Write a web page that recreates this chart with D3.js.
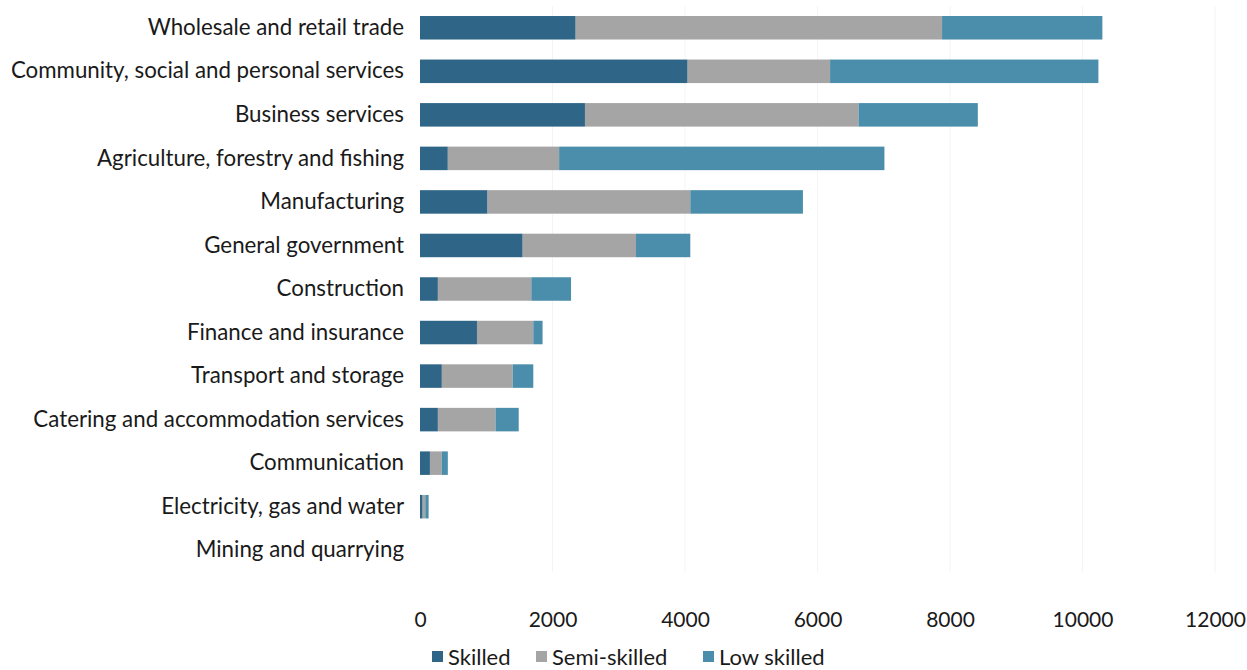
<!DOCTYPE html>
<html>
<head>
<meta charset="utf-8">
<script src="https://cdn.jsdelivr.net/npm/d3@7"></script>
<style>
  html, body { margin: 0; padding: 0; background: #ffffff; }
  svg { display: block; }
  text { font-family: Lato, "Open Sans", sans-serif; fill: #1a1a1a; }
</style>
</head>
<body>
<svg id="chart" width="1247" height="670"></svg>
<script>
// Employment by sector and skill level
const categories = [
  "Wholesale and retail trade",
  "Community, social and personal services",
  "Business services",
  "Agriculture, forestry and fishing",
  "Manufacturing",
  "General government",
  "Construction",
  "Finance and insurance",
  "Transport and storage",
  "Catering and accommodation services",
  "Communication",
  "Electricity, gas and water",
  "Mining and quarrying"
];
const skilled     = [2350, 4040, 2490, 420, 1020, 1550, 270, 860, 330, 270, 150, 40, 0];
const semiSkilled = [5530, 2150, 4130, 1680, 3060, 1710, 1410, 850, 1070, 870, 180, 40, 0];
const lowSkilled  = [2420, 4050, 1800, 4910, 1700, 820, 600, 140, 310, 350, 90, 50, 0];
const seriesNames = ["Skilled", "Semi-skilled", "Low skilled"];
const seriesColors = ["#2f6688", "#a5a5a5", "#4a8eab"];
const xTicks = [0, 2000, 4000, 6000, 8000, 10000, 12000];

const rows = categories.map((c, i) => ({
  category: c,
  "Skilled": skilled[i],
  "Semi-skilled": semiSkilled[i],
  "Low skilled": lowSkilled[i]
}));

const svg = d3.select("#chart");
const plotLeft = 420, plotRight = 1215, plotTop = 6, plotBottom = 572;

const x = d3.scaleLinear().domain([0, 12000]).range([plotLeft, plotRight]);
const y = d3.scaleBand().domain(categories).range([plotTop, plotBottom]).paddingInner(0.46).paddingOuter(0.23);
const color = d3.scaleOrdinal().domain(seriesNames).range(seriesColors);

// faint vertical gridlines
svg.append("g")
  .selectAll("line")
  .data(xTicks.slice(1))
  .join("line")
  .attr("x1", d => x(d)).attr("x2", d => x(d))
  .attr("y1", plotTop).attr("y2", plotBottom)
  .attr("stroke", "#f4f4f4")
  .attr("stroke-width", 1);

// stacked bars
const stacked = d3.stack().keys(seriesNames)(rows);
svg.append("g")
  .selectAll("g")
  .data(stacked)
  .join("g")
  .attr("fill", d => color(d.key))
  .selectAll("rect")
  .data(d => d)
  .join("rect")
  .attr("x", d => x(d[0]))
  .attr("y", d => y(d.data.category))
  .attr("width", d => Math.max(0, x(d[1]) - x(d[0])))
  .attr("height", y.bandwidth());

// category axis
const yAxis = svg.append("g")
  .attr("transform", `translate(${plotLeft - 16},0)`)
  .call(d3.axisLeft(y).tickSize(0).tickPadding(0));
yAxis.select(".domain").remove();
yAxis.selectAll("text")
  .style("font-family", "Lato, 'Open Sans', sans-serif")
  .style("font-size", "22.3px")
  .attr("fill", "#1a1a1a");

// value axis
const xAxis = svg.append("g")
  .attr("transform", `translate(0,${plotBottom + 4})`)
  .call(d3.axisBottom(x).tickValues(xTicks).tickFormat(d3.format("d")).tickSize(0).tickPadding(36));
xAxis.select(".domain").remove();
xAxis.selectAll("text")
  .style("font-family", "Lato, 'Open Sans', sans-serif")
  .style("font-size", "21px")
  .attr("fill", "#1a1a1a");

// legend
const legendItems = [
  { name: "Skilled", x: 432 },
  { name: "Semi-skilled", x: 536 },
  { name: "Low skilled", x: 703 }
];
const legend = svg.append("g").attr("transform", "translate(0,657)");
legendItems.forEach(item => {
  legend.append("rect")
    .attr("x", item.x).attr("y", -6)
    .attr("width", 11).attr("height", 11)
    .attr("fill", color(item.name));
  legend.append("text")
    .attr("x", item.x + 16).attr("y", 0)
    .attr("dy", "0.35em")
    .style("font-size", "22px")
    .text(item.name);
});
</script>
</body>
</html>
